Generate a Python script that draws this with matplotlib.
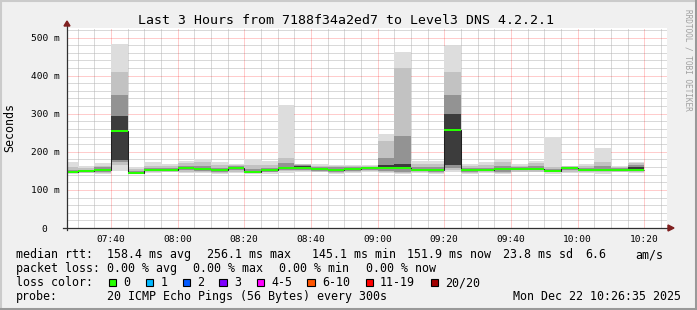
import matplotlib
matplotlib.use("Agg")
import matplotlib.pyplot as plt
import numpy as np
from matplotlib.lines import Line2D
from matplotlib.patches import Rectangle, Polygon

W, H = 697, 310
MONO = "DejaVu Sans Mono"

# ---------------- data ----------------
# 5-minute steps, first step starts 07:25 (minutes after 07:00)
first_step_min = 25
step_min = 5
median = [147, 149, 152, 254.5, 145.1, 152.4, 152, 157.7, 155, 152, 157, 148, 152, 158, 158,
          154, 153, 155, 157, 157, 158, 153, 153, 256.1, 151, 152, 155, 154, 155, 150, 157.5,
          153, 152, 153, 151.9]
p_min = [143, 144, 143, 150, 142, 145, 146, 145, 144, 143, 145, 142, 143, 145, 148, 146, 142, 144,
         146, 144, 142, 144, 142, 147, 143, 144, 141, 146, 146, 143, 144, 145, 143, 146, 145]
p10 = [144, 145, 145, 166, 143, 147, 148, 148, 147, 145, 148, 144, 146, 150, 150, 148, 144, 147,
       149, 147, 145, 147, 145, 152, 145, 146, 144, 148, 148, 146, 147, 147, 146, 148, 148]
p25 = [145, 147, 147, 172, 144, 149, 150, 152, 150, 148, 151, 145, 148, 153, 153, 150, 147, 150,
       152, 150, 148, 150, 148, 158, 148, 149, 148, 151, 151, 148, 151, 150, 149, 150, 150]
p40 = [146, 148, 150, 178, 145, 151, 151, 155, 153, 151, 155, 147, 150, 156, 156, 153, 151, 153,
       156, 154, 154, 152, 151, 165, 150, 151, 153, 153, 154, 150, 155, 152, 151, 152, 150]
p60 = [148, 150, 156, 295, 147, 154, 154, 160, 158, 154, 160, 150, 154, 160, 162, 156, 155, 157,
       158, 165, 168, 155, 155, 300, 153, 154, 157, 156, 157, 153, 159, 155, 155, 154, 160]
p75 = [151, 153, 160, 350, 150, 158, 158, 164, 164, 158, 163, 154, 158, 170, 165, 160, 159, 160,
       160, 185, 242, 160, 160, 350, 158, 158, 163, 160, 162, 156, 161, 158, 162, 157, 165]
p90 = [160, 158, 164, 410, 155, 164, 163, 170, 173, 165, 166, 165, 166, 185, 167, 164, 163, 163,
       163, 229, 421, 168, 168, 410, 164, 165, 172, 164, 170, 160, 163, 163, 172, 161, 170]
p_max = [172, 163, 170, 482, 160, 172, 168, 175, 182, 172, 168, 182, 176, 324, 169, 167, 166, 165,
         165, 248, 461, 175, 176, 478, 168, 172, 179, 168, 176, 240, 164, 168, 210, 164, 174]

x_ticks = [40, 60, 80, 100, 120, 140, 160, 180, 200]
x_labels = ["07:40", "08:00", "08:20", "08:40", "09:00", "09:20", "09:40", "10:00", "10:20"]
y_ticks = [0, 100, 200, 300, 400, 500]
y_labels = ["0", "100 m", "200 m", "300 m", "400 m", "500 m"]
x_range = (26.83, 206.83)
y_range = (0, 525)

title = "Last 3 Hours from 7188f34a2ed7 to Level3 DNS 4.2.2.1"
loss_labels = ["0", "1", "2", "3", "4-5", "6-10", "11-19", "20/20"]
loss_colors = ["#26ff00", "#00b8ff", "#0059ff", "#7e00ff", "#ff00ff", "#ff5500", "#ff0000", "#a10000"]

# ---------------- figure ----------------
fig = plt.figure(figsize=(W / 100, H / 100), dpi=100, facecolor="#f0f0f0")
L, R, T, B = 67, 667, 28, 228
ax = fig.add_axes([L / W, 1 - B / H, (R - L) / W, (B - T) / H])
ax.set_facecolor("white")
ax.set_xlim(*x_range)
ax.set_ylim(*y_range)
for s in ax.spines.values():
    s.set_visible(False)

# grid
minor_v = np.arange(30, 207, 5)
for xv in minor_v:
    if xv % 20 != 0:
        ax.axvline(xv, color="#b4b4b4", lw=0.72, ls=(0, (1, 1)), zorder=0)
for yv in np.arange(20, 525, 20):
    if yv % 100 != 0:
        ax.axhline(yv, color="#b4b4b4", lw=0.72, ls=(0, (1, 1)), zorder=0)
for xv in x_ticks:
    ax.axvline(xv, color=(1, 0, 0, 0.4), lw=0.72, ls=(0, (1, 1)), zorder=0.5)
for yv in y_ticks[1:]:
    ax.axhline(yv, color=(1, 0, 0, 0.4), lw=0.72, ls=(0, (1, 1)), zorder=0.5)

# smoke
n = len(median)
edges = first_step_min + step_min * np.arange(n + 1)
layers = [(p_min, p_max, "#dddddd"), (p10, p90, "#c2c2c2"),
          (p25, p75, "#939393"), (p40, p60, "#3c3c3c")]
for lo, hi, col in layers:
    ax.stairs(np.array(hi, float), edges, baseline=np.array(lo, float), fill=True,
              color=col, lw=0, zorder=2)

# median
med = np.array(median, float)
ax.stairs(med, edges, baseline=None, color="#202020", lw=0.75, zorder=3)
sw = (y_range[1] - y_range[0]) / (B - T)
ax.stairs(med + sw, edges, baseline=med - sw, fill=True, color=loss_colors[0], lw=0, zorder=4)

# ticks
ax.set_xticks(x_ticks)
ax.set_xticklabels(x_labels, fontfamily=MONO, fontsize=6.8)
ax.tick_params(axis="x", length=0, pad=5)
ax.set_yticks([])
ytr = ax.get_yaxis_transform()
for v, lab in zip(y_ticks, y_labels):
    xr = 59.3 if lab != "0" else 47.3
    ax.text((xr - L) / (R - L), v, lab, transform=ytr, ha="right", va="center_baseline",
            fontfamily=MONO, fontsize=6.8, clip_on=False)

# axes lines with arrows (in axes coordinates)
axc = "#303030"
ax.add_line(Line2D([-4 / 600, 601 / 600], [0, 0], transform=ax.transAxes, color=axc, lw=0.9, clip_on=False, zorder=5))
ax.add_line(Line2D([0, 0], [-2 / 200, 202 / 200], transform=ax.transAxes, color=axc, lw=0.9, clip_on=False, zorder=5))
ax.add_patch(Polygon([[601 / 600, 3 / 200], [601 / 600, -3 / 200], [607 / 600, 0]], closed=True,
                     transform=ax.transAxes, color="#7f1f1f", clip_on=False, zorder=6))
ax.add_patch(Polygon([[-3 / 600, 202 / 200], [3 / 600, 202 / 200], [0, 207 / 200]], closed=True,
                     transform=ax.transAxes, color="#7f1f1f", clip_on=False, zorder=6))

def fx(x):
    return x / W

def fy(y):
    return 1 - y / H

# title & labels
fig.text(fx(346.5), fy(24), title, ha="center", va="baseline", fontfamily=MONO, fontsize=9.5)
fig.text(fx(10), fy(128), "Seconds", rotation=90, ha="center", va="center", fontfamily=MONO, fontsize=8.4)
fig.text(fx(688), fy(60), "RRDTOOL / TOBI OETIKER", rotation=270, ha="center", va="center",
         fontfamily=MONO, fontsize=5.6, color="#a0a0a0")

fs = 8.4
row1 = [(16, "median rtt:"), (107, "158.4 ms avg"), (206.7, "256.1 ms max"), (311.7, "145.1 ms min"),
        (407.3, "151.9 ms now"), (503.3, "23.8 ms sd"), (585.7, "6.6"), (635, "am/s")]
row2 = [(16, "packet loss:"), (107.3, "0.00 % avg"), (193.3, "0.00 % max"), (279.3, "0.00 % min"),
        (366, "0.00 % now")]
for x, s in row1:
    fig.text(fx(x), fy(258.3), s, ha="left", va="baseline", fontfamily=MONO, fontsize=fs)
for x, s in row2:
    fig.text(fx(x), fy(272.3), s, ha="left", va="baseline", fontfamily=MONO, fontsize=fs)
fig.text(fx(16), fy(286.3), "loss color:", ha="left", va="baseline", fontfamily=MONO, fontsize=fs)
box_x = [108.7, 145.7, 182.7, 219.3, 256.7, 307.3, 365.5, 430.5]
for bx, lab, col in zip(box_x, loss_labels, loss_colors):
    fig.add_artist(Rectangle((fx(bx), fy(286)), 7.5 / W, 7.5 / H, transform=fig.transFigure,
                             facecolor=col, edgecolor="black", lw=0.8))
    fig.text(fx(bx + 14.5), fy(286.3), lab, ha="left", va="baseline", fontfamily=MONO, fontsize=fs)
fig.text(fx(16), fy(300), "probe:", ha="left", va="baseline", fontfamily=MONO, fontsize=fs)
fig.text(fx(107.3), fy(300), "20 ICMP Echo Pings (56 Bytes) every 300s", ha="left", va="baseline",
         fontfamily=MONO, fontsize=fs)
fig.text(fx(512.7), fy(300), "Mon Dec 22 10:26:35 2025", ha="left", va="baseline",
         fontfamily=MONO, fontsize=fs)

# frame
fig.add_artist(Line2D([0, 1], [1 - 1 / H, 1 - 1 / H], transform=fig.transFigure, color="#cbcbcb", lw=1.5))
fig.add_artist(Line2D([1 / W, 1 / W], [0, 1], transform=fig.transFigure, color="#cbcbcb", lw=1.5))
fig.add_artist(Line2D([0, 1], [1.5 / H, 1.5 / H], transform=fig.transFigure, color="#999999", lw=2.2))
fig.add_artist(Line2D([1 - 1.5 / W, 1 - 1.5 / W], [0, 1], transform=fig.transFigure, color="#999999", lw=2.2))

fig.savefig("out.png", dpi=100, facecolor=fig.get_facecolor())
